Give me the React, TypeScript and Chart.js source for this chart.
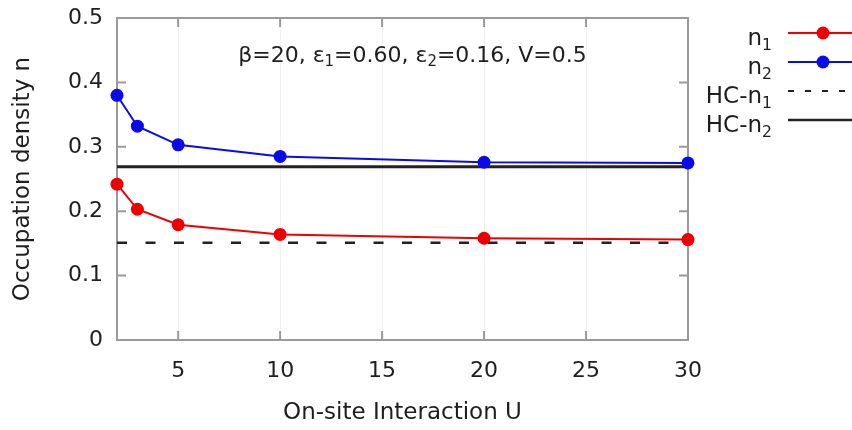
import React, { useEffect, useRef } from 'react';
import { Chart, registerables } from 'chart.js';

Chart.register(...registerables);

// ---- data ----
const uValues = [2, 3, 5, 10, 20, 30];
const n1Values = [0.242, 0.203, 0.179, 0.164, 0.158, 0.156];
const n2Values = [0.380, 0.332, 0.303, 0.285, 0.276, 0.275];
const hcU = [2, 30];
const hcN1Values = [0.151, 0.151];
const hcN2Values = [0.269, 0.269];
const xTicks = [5, 10, 15, 20, 25, 30];
const yTicks = [0, 0.1, 0.2, 0.3, 0.4, 0.5];
const yTickLabels = ['0', '0.1', '0.2', '0.3', '0.4', '0.5'];
const xTitle = 'On-site Interaction U';
const yTitle = 'Occupation density n';

type Seg = [string, boolean]; // [text, isSubscript]
const annotationSegs: Seg[] = [
  ['β=20, ε', false], ['1', true], ['=0.60, ε', false], ['2', true], ['=0.16, V=0.5', false],
];
const legendLabels: Seg[][] = [
  [['n', false], ['1', true]],
  [['n', false], ['2', true]],
  [['HC-n', false], ['1', true]],
  [['HC-n', false], ['2', true]],
];

const FONT = "'DejaVu Sans', sans-serif";
const RED = 'rgb(238,0,0)';
const BLUE = 'rgb(10,10,235)';
const FRAME = '#9a9a9a';
const TEXT = '#1e1e1e';

function drawRich(ctx: CanvasRenderingContext2D, segs: Seg[], x: number, baseline: number, size: number, align: 'left' | 'right' | 'center') {
  const subSize = size * 0.68;
  const widths = segs.map(([t, sub]) => {
    ctx.font = `${sub ? subSize : size}px ${FONT}`;
    return ctx.measureText(t).width;
  });
  const total = widths.reduce((a, b) => a + b, 0);
  let cx = align === 'left' ? x : align === 'right' ? x - total : x - total / 2;
  ctx.textAlign = 'left';
  ctx.textBaseline = 'alphabetic';
  ctx.fillStyle = TEXT;
  segs.forEach(([t, sub], i) => {
    ctx.font = `${sub ? subSize : size}px ${FONT}`;
    ctx.fillText(t, cx, sub ? baseline + size * 0.2 : baseline);
    cx += widths[i];
  });
}

const decorPlugin = {
  id: 'decor',
  beforeDatasetsDraw(chart: any) {
    const { ctx, chartArea: a, scales } = chart;
    const tl = 9;
    ctx.save();
    ctx.strokeStyle = FRAME;
    ctx.lineWidth = 2;
    ctx.beginPath();
    xTicks.forEach((v) => {
      const px = scales.x.getPixelForValue(v);
      ctx.moveTo(px, a.bottom); ctx.lineTo(px, a.bottom - tl);
      ctx.moveTo(px, a.top); ctx.lineTo(px, a.top + tl);
    });
    yTicks.forEach((v) => {
      const py = scales.y.getPixelForValue(v);
      ctx.moveTo(a.left, py); ctx.lineTo(a.left + tl, py);
      ctx.moveTo(a.right, py); ctx.lineTo(a.right - tl, py);
    });
    ctx.stroke();
    ctx.strokeRect(a.left, a.top, a.right - a.left, a.bottom - a.top);
    ctx.restore();
  },
  afterDraw(chart: any) {
    const { ctx, chartArea: a } = chart;
    ctx.save();
    // annotation inside plot
    drawRich(ctx, annotationSegs, (a.left + a.right) / 2 + 10, a.top + 44, 22, 'center');

    // legend
    const styles = [
      { color: RED, dash: [] as number[], width: 2, marker: true },
      { color: BLUE, dash: [] as number[], width: 2, marker: true },
      { color: '#222', dash: [6, 11], width: 2, marker: false },
      { color: '#222', dash: [] as number[], width: 2.5, marker: false },
    ];
    const textRight = a.right + 84;
    const lineStart = a.right + 100;
    const lineEnd = chart.width;
    const markerX = a.right + 135;
    legendLabels.forEach((segs, i) => {
      const y = a.top + 15 + i * 29;
      drawRich(ctx, segs, textRight, y + 12, 23, 'right');
      const s = styles[i];
      ctx.strokeStyle = s.color;
      ctx.lineWidth = s.width;
      ctx.setLineDash(s.dash);
      ctx.beginPath();
      ctx.moveTo(lineStart, y);
      ctx.lineTo(lineEnd, y);
      ctx.stroke();
      ctx.setLineDash([]);
      if (s.marker) {
        ctx.fillStyle = s.color;
        ctx.beginPath();
        ctx.arc(markerX, y, 6.5, 0, Math.PI * 2);
        ctx.fill();
      }
    });
    ctx.restore();
  },
};

export default function App() {
  const ref = useRef<HTMLCanvasElement>(null);
  useEffect(() => {
    document.body.style.margin = '0';
    const canvas = ref.current!;
    const toXY = (xs: number[], ys: number[]) => xs.map((x, i) => ({ x, y: ys[i] }));
    const chart = new Chart(canvas, {
      type: 'line',
      data: {
        datasets: [
          {
            label: 'n1', data: toXY(uValues, n1Values), borderColor: RED, backgroundColor: RED,
            borderWidth: 2, pointRadius: 6.5, pointBorderWidth: 0, pointBackgroundColor: RED, clip: false,
          },
          {
            label: 'n2', data: toXY(uValues, n2Values), borderColor: BLUE, backgroundColor: BLUE,
            borderWidth: 2, pointRadius: 6.5, pointBorderWidth: 0, pointBackgroundColor: BLUE, clip: false,
          },
          {
            label: 'HC-n1', data: toXY(hcU, hcN1Values), borderColor: '#222', borderWidth: 2.5,
            borderDash: [10, 18.5], pointRadius: 0,
          },
          {
            label: 'HC-n2', data: toXY(hcU, hcN2Values), borderColor: '#222', borderWidth: 3, pointRadius: 0,
          },
        ] as any,
      },
      options: {
        animation: false,
        responsive: false,
        devicePixelRatio: 1,
        layout: { padding: { left: 0, right: 164, top: 18, bottom: 0 } },
        plugins: { legend: { display: false }, tooltip: { enabled: false }, title: { display: false } },
        scales: {
          x: {
            type: 'linear', min: 2, max: 30,
            afterBuildTicks: (s: any) => { s.ticks = xTicks.map((v) => ({ value: v })); },
            afterFit: (s: any) => { s.height = 90; s.paddingLeft = 0; s.paddingRight = 0; },
            grid: { display: true, drawTicks: false, color: '#f1f1f1', lineWidth: 1 },
            border: { display: false },
            ticks: { padding: 18, color: TEXT, font: { family: FONT, size: 22 }, maxRotation: 0 },
            title: { display: true, text: xTitle, color: TEXT, font: { family: FONT, size: 23 }, padding: { top: 0, bottom: 3 } },
          },
          y: {
            type: 'linear', min: 0, max: 0.5,
            afterBuildTicks: (s: any) => { s.ticks = yTicks.map((v) => ({ value: v })); },
            afterFit: (s: any) => { s.width = 117; s.paddingTop = 0; s.paddingBottom = 0; },
            grid: { display: false, drawTicks: false },
            border: { display: false },
            ticks: { padding: 14, color: TEXT, font: { family: FONT, size: 22 }, callback: (_v: any, i: number) => yTickLabels[i] },
            title: { display: true, text: yTitle, color: TEXT, font: { family: FONT, size: 23 }, padding: { top: 9, bottom: 0 } },
          },
        },
      } as any,
      plugins: [decorPlugin],
    });
    return () => chart.destroy();
  }, []);
  return (
    <div style={{ width: 852, height: 430 }}>
      <canvas ref={ref} width={852} height={430} />
    </div>
  );
}
